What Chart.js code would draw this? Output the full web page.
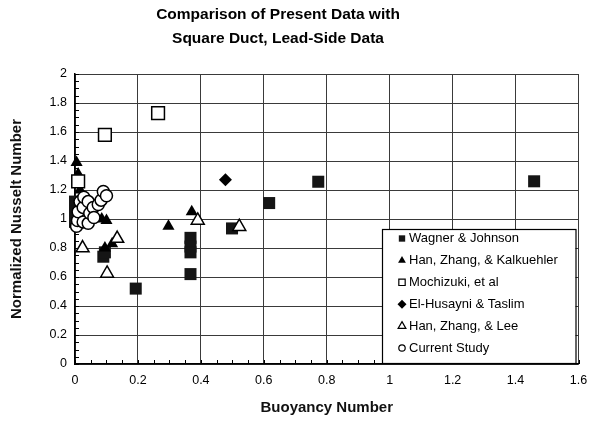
<!DOCTYPE html>
<html>
<head>
<meta charset="utf-8">
<script src="https://cdn.jsdelivr.net/npm/chart.js@4/dist/chart.umd.min.js"></script>
<style>
html,body{margin:0;padding:0;background:#fff;}
#wrap{width:589px;height:423px;position:relative;}
</style>
</head>
<body>
<div id="wrap"><canvas id="c" width="589" height="423"></canvas></div>
<script>
// ---- data ----
const titleLines = ['Comparison of Present Data with', 'Square Duct, Lead-Side Data'];
const xTitle = 'Buoyancy Number';
const yTitle = 'Normalized Nusselt Number';
const xTicks = [0, 0.2, 0.4, 0.6, 0.8, 1, 1.2, 1.4, 1.6];
const yTicks = [0, 0.2, 0.4, 0.6, 0.8, 1, 1.2, 1.4, 1.6, 1.8, 2];
const seriesNames = ['Wagner & Johnson', 'Han, Zhang, & Kalkuehler', 'Mochizuki, et al',
                     'El-Husayni & Taslim', 'Han, Zhang, & Lee', 'Current Study'];

const wagnerX = [0.0, 0.0, 0.0, 0.09, 0.095, 0.193, 0.367, 0.367, 0.367, 0.367, 0.499, 0.617, 0.773, 1.459];
const wagnerY = [1.12, 1.05, 0.98, 0.74, 0.77, 0.52, 0.87, 0.81, 0.77, 0.62, 0.935, 1.11, 1.257, 1.26];

const hzkX = [0.005, 0.01, 0.016, 0.085, 0.1, 0.095, 0.118, 0.297, 0.371];
const hzkY = [1.39, 1.31, 1.20, 1.00, 0.99, 0.80, 0.83, 0.95, 1.05];

const mochizukiX = [0.01, 0.095, 0.264];
const mochizukiY = [1.26, 1.58, 1.73];

const husayniX = [0.478];
const husayniY = [1.27];

const hzlX = [0.024, 0.102, 0.134, 0.39, 0.522];
const hzlY = [0.80, 0.625, 0.865, 0.99, 0.947];

const currentX = [0.005, 0.008, 0.010, 0.016, 0.026, 0.026, 0.028, 0.042, 0.042, 0.047, 0.058, 0.06, 0.074, 0.083, 0.09, 0.10];
const currentY = [0.95, 0.99, 1.05, 1.12, 0.98, 1.08, 1.15, 1.12, 0.97, 1.04, 1.08, 1.01, 1.10, 1.13, 1.19, 1.16];

// ---- build ----
const pts = (xs, ys) => xs.map((x, i) => ({x: x, y: ys[i]}));
const FONT = "'Liberation Sans', Arial, Helvetica, sans-serif";
Chart.defaults.font.family = FONT;
Chart.defaults.color = '#000';

const styles = [
  {pointStyle: 'rect',     radius: 8.5, fill: '#151515', stroke: '#151515', bw: 0,   lr: 4.5, order: 5},
  {pointStyle: 'triangle', radius: 7,   fill: '#000',    stroke: '#000',    bw: 0,   lr: 4.5, order: 4},
  {pointStyle: 'rect',     radius: 9,   fill: '#fff',    stroke: '#000',    bw: 1.5, lr: 4.5, order: 3},
  {pointStyle: 'rectRot',  radius: 6.5, fill: '#000',    stroke: '#000',    bw: 0,   lr: 4.5, order: 2},
  {pointStyle: 'triangle', radius: 7.5, fill: '#fff',    stroke: '#000',    bw: 1.5, lr: 4.5, order: 1},
  {pointStyle: 'circle',   radius: 6,   fill: '#fff',    stroke: '#000',    bw: 1.5, lr: 3.2, order: 0}
];
const seriesData = [pts(wagnerX, wagnerY), pts(hzkX, hzkY), pts(mochizukiX, mochizukiY),
                    pts(husayniX, husayniY), pts(hzlX, hzlY), pts(currentX, currentY)];

const datasets = seriesNames.map((name, i) => ({
  label: name,
  data: seriesData[i],
  pointStyle: styles[i].pointStyle,
  pointRadius: styles[i].radius,
  pointHoverRadius: styles[i].radius,
  backgroundColor: styles[i].fill,
  borderColor: styles[i].stroke,
  borderWidth: styles[i].bw,
  order: styles[i].order,
  clip: false,
  showLine: false
}));

function drawMarker(ctx, style, x, y, r) {
  ctx.save();
  ctx.fillStyle = style.fill;
  ctx.strokeStyle = style.stroke;
  ctx.lineWidth = style.bw ? 1.2 : 0;
  ctx.beginPath();
  if (style.pointStyle === 'rect') {
    const s = r * Math.SQRT1_2;
    ctx.rect(x - s, y - s, 2 * s, 2 * s);
  } else if (style.pointStyle === 'triangle') {
    ctx.moveTo(x, y - r);
    ctx.lineTo(x + r * Math.sin(2 * Math.PI / 3), y + r / 2);
    ctx.lineTo(x - r * Math.sin(2 * Math.PI / 3), y + r / 2);
    ctx.closePath();
  } else if (style.pointStyle === 'rectRot') {
    ctx.moveTo(x - r, y); ctx.lineTo(x, y - r); ctx.lineTo(x + r, y); ctx.lineTo(x, y + r);
    ctx.closePath();
  } else {
    ctx.arc(x, y, r, 0, Math.PI * 2);
  }
  ctx.fill();
  if (style.bw) ctx.stroke();
  ctx.restore();
}

const boxLegend = {
  id: 'boxLegend',
  afterDatasetsDraw(chart) {
    const {ctx, chartArea: a} = chart;
    const L = a.left + 307, T = a.top + 155, R = a.right - 3, B = a.bottom - 1;
    ctx.save();
    ctx.fillStyle = '#fff';
    ctx.fillRect(L, T, R - L, B - T);
    ctx.strokeStyle = '#000';
    ctx.lineWidth = 1.2;
    ctx.strokeRect(L + 0.5, T + 0.5, R - L, B - T);
    ctx.font = '13px ' + FONT;
    ctx.textBaseline = 'middle';
    ctx.textAlign = 'left';
    chart.data.datasets.forEach((ds, i) => {
      const y = T + 9.5 + i * 21.9;
      drawMarker(ctx, styles[i], L + 20, y, styles[i].lr);
      ctx.fillStyle = '#000';
      ctx.fillText(ds.label, L + 27, y);
    });
    ctx.restore();
  }
};

const minorTicks = {
  id: 'minorTicks',
  beforeDatasetsDraw(chart) {
    const {ctx, chartArea: a, scales} = chart;
    ctx.save();
    ctx.strokeStyle = '#000';
    ctx.lineWidth = 1;
    ctx.beginPath();
    for (let i = 0; i <= 40; i++) {
      const py = Math.round(scales.y.getPixelForValue(i * 0.05)) + 0.5;
      ctx.moveTo(a.left, py); ctx.lineTo(a.left + 4, py);
    }
    for (let i = 0; i <= 32; i++) {
      const px = Math.round(scales.x.getPixelForValue(i * 0.05)) + 0.5;
      ctx.moveTo(px, a.bottom); ctx.lineTo(px, a.bottom - 4);
    }
    ctx.stroke();
    ctx.restore();
  }
};

const shiftTitle = {
  id: 'shiftTitle',
  afterLayout(chart) {
    const t = chart.titleBlock;
    if (t) { t.left = 0; t.right = 556; t.width = 556; }
  }
};

new Chart(document.getElementById('c'), {
  type: 'scatter',
  data: {datasets: datasets},
  plugins: [minorTicks, boxLegend, shiftTitle],
  options: {
    responsive: false,
    devicePixelRatio: 1,
    animation: false,
    layout: {padding: {left: 0, right: 9, top: 0, bottom: 0}},
    plugins: {
      legend: {display: false},
      tooltip: {enabled: false},
      title: {
        display: true,
        text: titleLines,
        color: '#000',
        font: {size: 15.5, weight: 'bold', family: FONT, lineHeight: 24 / 15.5},
        padding: {top: 3, bottom: 23}
      }
    },
    scales: {
      x: {
        type: 'linear', min: 0, max: 1.6,
        afterBuildTicks: s => { s.ticks = xTicks.map(v => ({value: v})); },
        afterFit: s => { s.height = 59; s.paddingRight = 0; s.paddingLeft = 0; },
        ticks: {color: '#000', font: {size: 12.5}, padding: 9, maxRotation: 0, autoSkip: false,
                callback: v => String(v)},
        grid: {color: '#3a3a3a', lineWidth: 1, drawTicks: false},
        border: {color: '#000', width: 1.5},
        title: {display: true, text: xTitle, color: '#111',
                font: {size: 15, weight: 'bold', family: FONT}, padding: {top: 0, bottom: 6}}
      },
      y: {
        type: 'linear', min: 0, max: 2,
        afterBuildTicks: s => { s.ticks = yTicks.map(v => ({value: v})); },
        afterFit: s => { s.width = 75; s.paddingTop = 0; s.paddingBottom = 0; },
        ticks: {color: '#000', font: {size: 12.5}, padding: 8, autoSkip: false,
                callback: v => String(v)},
        grid: {color: '#3a3a3a', lineWidth: 1, drawTicks: false},
        border: {color: '#000', width: 1.5},
        title: {display: true, text: yTitle, color: '#111',
                font: {size: 15, weight: 'bold', family: FONT}, padding: {top: 8, bottom: 0}}
      }
    }
  }
});
</script>
</body>
</html>
